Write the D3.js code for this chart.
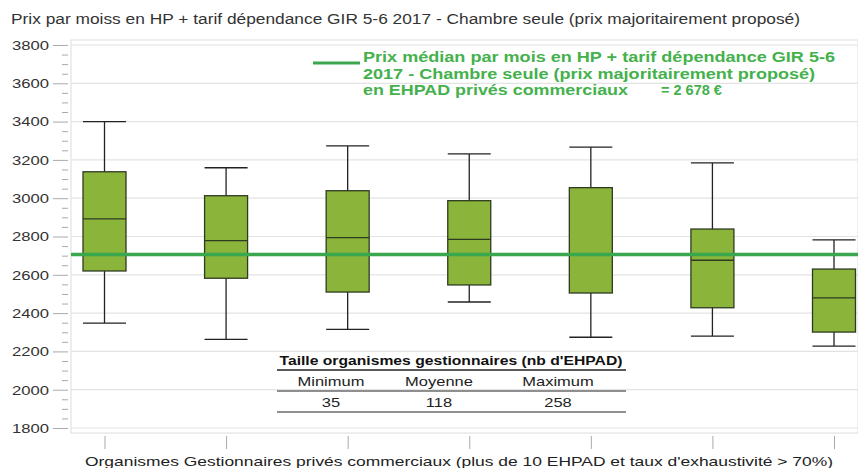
<!DOCTYPE html>
<html><head><meta charset="utf-8">
<script src="https://cdnjs.cloudflare.com/ajax/libs/d3/7.8.5/d3.min.js"></script>
<style>
html,body{margin:0;padding:0;background:#fff;}
svg{display:block;font-family:"Liberation Sans",Arial,sans-serif;}
</style></head>
<body><svg id="c" width="858" height="468"></svg>
<script>
const categories = ["OG 1","OG 2","OG 3","OG 4","OG 5","OG 6","OG 7"];
const whiskerLow  = [2348, 2263, 2315, 2458, 2274, 2280, 2228];
const q1          = [2620, 2582, 2510, 2547, 2505, 2428, 2301];
const median      = [2892, 2778, 2794, 2785, 2708, 2676, 2480];
const q3          = [3138, 3013, 3039, 2987, 3055, 2839, 2630];
const whiskerHigh = [3400, 3159, 3273, 3231, 3267, 3184, 2782];
const medianLineValue = 2706;
const yTicks = [1800, 2000, 2200, 2400, 2600, 2800, 3000, 3200, 3400, 3600, 3800];
const title = "Prix par moiss en HP + tarif dépendance GIR 5-6 2017 - Chambre seule (prix majoritairement proposé)";
const xTitle = "Organismes Gestionnaires privés commerciaux (plus de 10 EHPAD et taux d'exhaustivité > 70%)";
const legendLines = ["Prix médian par mois en HP + tarif dépendance GIR 5-6",
                     "2017 - Chambre seule  (prix majoritairement proposé)",
                     "en EHPAD privés commerciaux"];
const legendValue = "= 2 678 €";
const tableTitle = "Taille organismes gestionnaires (nb d'EHPAD)";
const tableHeaders = ["Minimum", "Moyenne", "Maximum"];
const tableValues = ["35", "118", "258"];

const svg = d3.select("#c");
const L = 71, R = 858, T = 40, B = 433;
const y = d3.scaleLinear().domain([1774, 3826]).range([B, T]);
const x = d3.scalePoint().domain(categories).range([104.5, 834]);
const boxW = 43;

// stretch text horizontally (the reference text is wider than Arial)
function fitW(sel, w) {
  sel.attr("textLength", w).attr("lengthAdjust", "spacingAndGlyphs");
}
function stretch(sel, k) {
  sel.each(function () {
    const w = this.getComputedTextLength();
    d3.select(this).attr("textLength", w * k).attr("lengthAdjust", "spacingAndGlyphs");
  });
}

// title
svg.append("text").attr("x", 11).attr("y", 24).attr("font-size", 14).attr("fill", "#333")
  .text(title).call(fitW, 789);

// plot frame
svg.append("rect").attr("x", L).attr("y", T).attr("width", R - L).attr("height", B - T)
  .attr("fill", "#fff").attr("stroke", "#ddd");

// grid
svg.append("g").selectAll("line").data(yTicks).join("line")
  .attr("x1", L).attr("x2", R).attr("y1", d => y(d)).attr("y2", d => y(d))
  .attr("stroke", "#e3e3e3").attr("stroke-width", 1.2);

// y axis minor
const minor = d3.range(1800, 3801, 50).filter(v => v % 200 !== 0);
const gMinor = svg.append("g").attr("transform", `translate(68,0)`)
  .call(d3.axisLeft(y).tickValues(minor).tickSize(6).tickFormat(""));
gMinor.select(".domain").remove();
gMinor.selectAll("line").attr("stroke", "#aaa");
// y axis major
const gy = svg.append("g").attr("transform", `translate(68,0)`)
  .call(d3.axisLeft(y).tickValues(yTicks).tickSize(15).tickPadding(4).tickFormat(d3.format("d")));
gy.select(".domain").remove();
gy.selectAll("line").attr("stroke", "#aaa");
gy.selectAll("text").attr("font-size", 13.5).attr("fill", "#333")
  .attr("font-family", '"Liberation Sans",Arial,sans-serif').call(fitW, 37);

// x axis
const gx = svg.append("g").attr("transform", `translate(0,436)`)
  .call(d3.axisBottom(x).tickSize(13).tickFormat(""));
gx.select(".domain").remove();
gx.selectAll("line").attr("stroke", "#aaa");
svg.append("text").attr("x", 459).attr("y", 466).attr("text-anchor", "middle")
  .attr("font-size", 13.5).attr("fill", "#222").text(xTitle).call(fitW, 748);

// boxes
const data = categories.map((c, i) => ({c, lo: whiskerLow[i], q1: q1[i], med: median[i], q3: q3[i], hi: whiskerHigh[i]}));
const gb = svg.append("g").selectAll("g").data(data).join("g");
gb.append("line").attr("x1", d => x(d.c)).attr("x2", d => x(d.c))
  .attr("y1", d => y(d.hi)).attr("y2", d => y(d.lo)).attr("stroke", "#222").attr("stroke-width", 1.3);
gb.append("line").attr("x1", d => x(d.c) - boxW / 2).attr("x2", d => x(d.c) + boxW / 2)
  .attr("y1", d => y(d.hi)).attr("y2", d => y(d.hi)).attr("stroke", "#222").attr("stroke-width", 1.3);
gb.append("line").attr("x1", d => x(d.c) - boxW / 2).attr("x2", d => x(d.c) + boxW / 2)
  .attr("y1", d => y(d.lo)).attr("y2", d => y(d.lo)).attr("stroke", "#222").attr("stroke-width", 1.3);
gb.append("rect").attr("x", d => x(d.c) - boxW / 2).attr("width", boxW)
  .attr("y", d => y(d.q3)).attr("height", d => y(d.q1) - y(d.q3))
  .attr("fill", "#8ab53a").attr("stroke", "#2f3a22").attr("stroke-width", 1.3);
gb.append("line").attr("x1", d => x(d.c) - boxW / 2).attr("x2", d => x(d.c) + boxW / 2)
  .attr("y1", d => y(d.med)).attr("y2", d => y(d.med)).attr("stroke", "#2f3a22").attr("stroke-width", 1.3);

// median line
svg.append("line").attr("x1", L).attr("x2", R).attr("y1", y(medianLineValue)).attr("y2", y(medianLineValue))
  .attr("stroke", "#3aa64e").attr("stroke-width", 3.5);

// legend
const lg = svg.append("g");
lg.append("line").attr("x1", 313).attr("x2", 360).attr("y1", 63).attr("y2", 63)
  .attr("stroke", "#3aa64e").attr("stroke-width", 3);
const legendW = [472, 452, 265];
legendLines.forEach((t, i) => {
  lg.append("text").attr("x", 363).attr("y", 62 + i * 16.5).attr("font-size", 14)
    .attr("font-weight", "bold").attr("fill", "#44b14c").text(t).call(fitW, legendW[i]);
});
lg.append("text").attr("x", 661).attr("y", 95).attr("font-size", 14.5)
  .attr("font-weight", "bold").attr("fill", "#44b14c").text(legendValue);

// table
const tb = svg.append("g");
const tx = [331, 439, 558];
tb.append("text").attr("x", 451).attr("y", 365).attr("text-anchor", "middle").attr("font-size", 13.5)
  .attr("font-weight", "bold").attr("fill", "#111").text(tableTitle).call(fitW, 343);
[370, 391, 412].forEach(yy => {
  tb.append("line").attr("x1", 277).attr("x2", 626).attr("y1", yy).attr("y2", yy)
    .attr("stroke", "#222").attr("stroke-width", yy === 370 ? 1.5 : 1.2);
});
tableHeaders.forEach((t, i) => tb.append("text").attr("x", tx[i]).attr("y", 386)
  .attr("text-anchor", "middle").attr("font-size", 13.5).attr("fill", "#222").text(t).call(stretch, 1.22));
tableValues.forEach((t, i) => tb.append("text").attr("x", tx[i]).attr("y", 407)
  .attr("text-anchor", "middle").attr("font-size", 13.5).attr("fill", "#222").text(t).call(stretch, 1.22));
</script></body></html>
